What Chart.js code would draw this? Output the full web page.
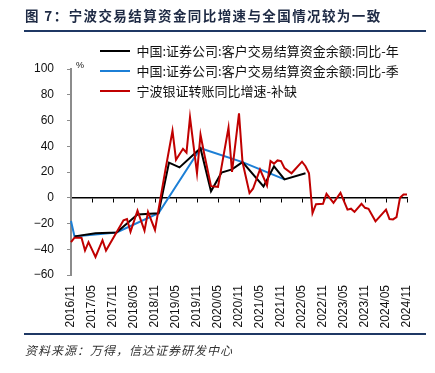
<!DOCTYPE html>
<html>
<head>
<meta charset="utf-8">
<script src="https://cdn.jsdelivr.net/npm/chart.js@4.4.1/dist/chart.umd.min.js"></script>
<style>
  html, body { margin: 0; padding: 0; background: #fff; }
  #wrap { position: relative; width: 435px; height: 373px; overflow: hidden; }
  #title { position: absolute; left: 25px; top: 5px; font: bold 13.5px "Noto Sans CJK SC"; letter-spacing: 1.4px; color: #1e2a44; white-space: nowrap; }
  .rule { position: absolute; left: 24px; width: 402px; height: 2px; background: #1f3864; }
  #source { position: absolute; left: 25px; top: 341px; font: italic 12px "Noto Sans CJK SC"; letter-spacing: 1px; color: #333; white-space: nowrap; }
  canvas { position: absolute; left: 0; top: 0; }
</style>
</head>
<body>
<div id="wrap">
  <canvas id="myChart" width="435" height="373"></canvas>
  <div id="title">图 7：宁波交易结算资金同比增速与全国情况较为一致</div>
  <div class="rule" style="top:30px"></div>
  <div class="rule" style="top:333px"></div>
  <div id="source">资料来源：万得，信达证券研发中心</div>
</div>
<script>
// tháng: 2016/11 -> 2024/11
const months = [];
for (let y = 2016, m = 11; y < 2024 || (y === 2024 && m <= 11);) {
    months.push(y + '/' + String(m).padStart(2, '0'));
    m++;
    if (m > 12) { m = 1; y++; }
}
const tickLabels = ['2016/11', '2017/05', '2017/11', '2018/05', '2018/11', '2019/05', '2019/11', '2020/05',
    '2020/11', '2021/05', '2021/11', '2022/05', '2022/11', '2023/05', '2023/11', '2024/05', '2024/11'];

// 中国:证券公司:客户交易结算资金余额:同比-年
const yearDates = ['2016/12', '2017/06', '2017/12', '2018/06', '2018/12', '2019/03', '2019/06', '2019/12',
    '2020/03', '2020/06', '2020/09', '2020/12', '2021/06', '2021/09', '2021/12', '2022/06'];
const yearValues = [-30, -27.5, -27, -13, -12, 27.3, 23.6, 38.5, 5, 19.5, 22, 27.7, 8.8, 24.4, 14.3, 19];

// 中国:证券公司:客户交易结算资金余额:同比-季
const quarterDates = ['2016/11', '2016/12', '2017/12', '2018/12', '2019/12', '2020/12', '2021/12'];
const quarterValues = [-18, -30, -27, -12, 38.5, 27.7, 14.3];

// 宁波银证转账同比增速-补缺
const ningboDates = ['2016/11', '2016/12', '2017/02', '2017/03', '2017/04', '2017/06', '2017/08', '2017/09',
    '2018/02', '2018/03', '2018/04', '2018/06', '2018/08', '2018/09', '2018/11', '2019/02', '2019/04',
    '2019/05', '2019/07', '2019/08', '2019/09', '2019/11', '2019/12', '2020/01', '2020/03', '2020/05',
    '2020/08', '2020/09', '2020/11', '2020/12', '2021/02', '2021/03', '2021/05', '2021/07', '2021/08',
    '2021/09', '2021/10', '2021/11', '2021/12', '2022/02', '2022/05', '2022/06', '2022/07', '2022/08',
    '2022/09', '2022/11', '2022/12', '2023/02', '2023/04', '2023/06', '2023/07', '2023/08', '2023/10',
    '2023/11', '2023/12', '2024/02', '2024/05', '2024/06', '2024/07', '2024/08', '2024/09', '2024/10', '2024/11'];
const ningboValues = [-34.5, -31, -31, -41, -34.5, -46, -33, -41,
    -17.5, -16.5, -26.5, -10, -25.5, -11, -25, 22, 52,
    29.5, 38, 35, 62.5, 19, 49, 35, 9, 8.5,
    54.5, 20, 65.5, 27.7, 3.6, 7, 22, 9.5, 28.5,
    26.5, 29, 28.5, 23, 19, 28, 24.5, 19, -12,
    -5, -4.7, 3, -4, 3.8, -9.2, -8.5, -11, -4.7,
    -7.8, -8.6, -18.3, -9.2, -16.5, -16.8, -15, 0, 2.6, 2.6];

const yTicks = { min: -60, max: 100, step: 20 };

function toPoints(dates, values) {
    return dates.map((d, i) => ({ x: d, y: values[i] }));
}

const tickFont = { family: '"Liberation Sans", Arial', size: 12 };

// đặt legend vào góc trên, chồng lên vùng vẽ
const legendSpot = {
    id: 'legendSpot',
    afterLayout(chart) {
        const lg = chart.legend;
        if (!lg) return;
        const pad = lg.options.labels.padding;
        const w = lg.width, h = lg.height;
        lg.left = 100 - pad;
        lg.top = 44.5 - pad;
        lg.right = lg.left + w;
        lg.bottom = lg.top + h;
    }
};

const pctMark = {
    id: 'pctMark',
    afterDraw(chart) {
        const { ctx, chartArea } = chart;
        ctx.save();
        ctx.font = '9px "Liberation Sans"';
        ctx.fillStyle = '#111';
        ctx.textAlign = 'center';
        ctx.textBaseline = 'middle';
        ctx.fillText('%', chartArea.left + 9, chartArea.top - 3);
        ctx.restore();
    }
};

const ctx = document.getElementById('myChart').getContext('2d');
const myChart = new Chart(ctx, {
    type: 'line',
    data: {
        labels: months,
        datasets: [
            {
                label: '中国:证券公司:客户交易结算资金余额:同比-年',
                data: toPoints(yearDates, yearValues),
                borderColor: '#000000',
                backgroundColor: '#000000',
                borderWidth: 2,
                order: 1,
                xAxisID: 'x',
                yAxisID: 'y'
            },
            {
                label: '中国:证券公司:客户交易结算资金余额:同比-季',
                data: toPoints(quarterDates, quarterValues),
                borderColor: '#1c7fd6',
                backgroundColor: '#1c7fd6',
                borderWidth: 2,
                order: 2,
                xAxisID: 'x',
                yAxisID: 'y'
            },
            {
                label: '宁波银证转账同比增速-补缺',
                data: toPoints(ningboDates, ningboValues),
                borderColor: '#c00000',
                backgroundColor: '#c00000',
                borderWidth: 2,
                order: 0,
                xAxisID: 'x',
                yAxisID: 'y'
            }
        ]
    },
    options: {
        responsive: false,
        animation: false,
        devicePixelRatio: 1,
        elements: { point: { radius: 0 }, line: { tension: 0 } },
        layout: { padding: { top: 69, right: 28, bottom: 38, left: 0 } },
        plugins: {
            tooltip: { enabled: false },
            legend: {
                position: 'chartArea',
                align: 'start',
                labels: {
                    boxWidth: 30,
                    boxHeight: 2,
                    padding: 7,
                    color: '#111',
                    font: { family: '"Noto Sans CJK SC"', size: 13 },
                    sort: (a, b) => a.datasetIndex - b.datasetIndex,
                    generateLabels: (chart) => Chart.defaults.plugins.legend.labels.generateLabels(chart)
                        .map(it => Object.assign(it, { lineWidth: 0 }))
                }
            }
        },
        scales: {
            x: {
                type: 'category',
                position: 'bottom',
                offset: false,
                grid: { display: false, drawTicks: false },
                border: { display: false },
                ticks: {
                    autoSkip: false,
                    maxRotation: 90,
                    minRotation: 90,
                    padding: 10,
                    color: '#111',
                    font: tickFont,
                    callback: function (value, index) {
                        return tickLabels.includes(months[index]) ? months[index] : '';
                    }
                },
                afterFit: (s) => { s.height = 60; }
            },
            x2: {
                type: 'category',
                axis: 'x',
                position: { y: 0 },
                offset: false,
                grid: {
                    display: true,
                    drawOnChartArea: false,
                    drawTicks: true,
                    tickLength: 4,
                    lineWidth: 1,
                    tickColor: (c) => tickLabels.includes(months[c.index]) ? '#000' : 'rgba(0,0,0,0)'
                },
                border: { display: true, color: '#000', width: 1.5 },
                ticks: { display: false }
            },
            y: {
                type: 'linear',
                position: 'left',
                min: yTicks.min,
                max: yTicks.max,
                grid: {
                    drawOnChartArea: false,
                    drawTicks: true,
                    tickLength: 4,
                    color: '#8c8c8c',
                    tickColor: '#8c8c8c'
                },
                border: { display: true, color: '#8c8c8c', width: 2 },
                ticks: {
                    stepSize: yTicks.step,
                    padding: 13,
                    color: '#111',
                    font: tickFont,
                    callback: function (value) {
                        return value < 0 ? '\u2212' + Math.abs(value) : value;
                    }
                },
                afterFit: (s) => { s.width = 71; }
            }
        }
    },
    plugins: [legendSpot, pctMark]
});
</script>
</body>
</html>
